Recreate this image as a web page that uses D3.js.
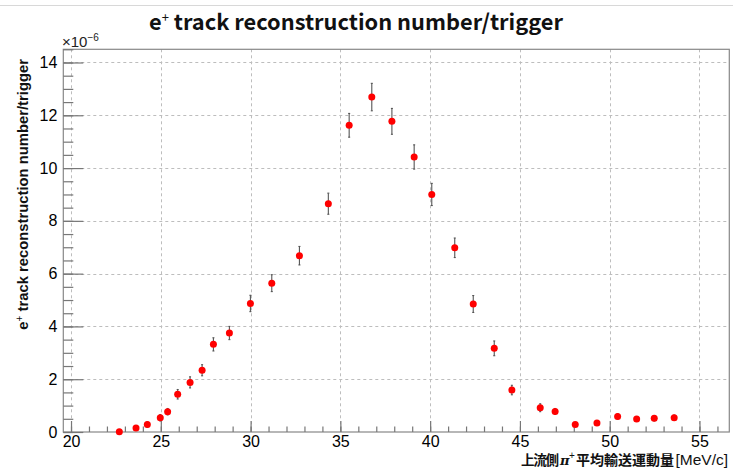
<!DOCTYPE html>
<html>
<head>
<meta charset="utf-8">
<script src="https://cdn.jsdelivr.net/npm/d3@7"></script>
<style>
  html, body { margin: 0; padding: 0; background: #fff; }
  svg { display: block; }
</style>
</head>
<body>
<script>
// Upstream pi+ mean transport momentum [MeV/c]
const momentum = [22.69, 23.62, 24.25, 24.97, 25.38, 25.94, 26.63, 27.30, 27.93, 28.82,
                  29.99, 31.18, 32.72, 34.33, 35.49, 36.75, 37.87, 39.11, 40.09, 41.37,
                  42.40, 43.57, 44.55, 46.13, 46.96, 48.08, 49.29, 50.44, 51.50, 52.48, 53.59];
// e+ reconstructed tracks per trigger (x 1e-6)
const rate = [0.01, 0.15, 0.28, 0.54, 0.77, 1.43, 1.88, 2.34, 3.32, 3.75,
              4.87, 5.64, 6.68, 8.65, 11.62, 12.69, 11.77, 10.42, 9.00, 6.98,
              4.85, 3.17, 1.59, 0.92, 0.78, 0.28, 0.34, 0.59, 0.49, 0.52, 0.54];
const rateErr = [0.04, 0.09, 0.10, 0.12, 0.12, 0.18, 0.21, 0.21, 0.25, 0.25,
                 0.31, 0.32, 0.35, 0.40, 0.45, 0.52, 0.49, 0.46, 0.42, 0.37,
                 0.32, 0.28, 0.18, 0.15, 0.11, 0.07, 0.07, 0.10, 0.09, 0.10, 0.10];
const xTicks = [20, 25, 30, 35, 40, 45, 50, 55];
const yTicks = [0, 2, 4, 6, 8, 10, 12, 14];

const W = 733, H = 470;
const frame = { left: 63.3, right: 729.3, top: 49.3, bottom: 432 };

const svg = d3.select("body").append("svg").attr("width", W).attr("height", H);

const x = d3.scaleLinear().domain([19.57, 56.66]).range([frame.left, frame.right]);
const y = d3.scaleLinear().domain([0, 14.5]).range([frame.bottom, frame.top]);

// thin rule along the top of the canvas
svg.append("line").attr("x1", 0).attr("x2", W).attr("y1", 5.5).attr("y2", 5.5)
  .attr("stroke", "#d8d8d8").attr("stroke-width", 1);

// dashed grid at major ticks
const grid = svg.append("g").attr("stroke", "#bdbdbd").attr("stroke-width", 1)
  .attr("stroke-dasharray", "3,3").attr("fill", "none");
grid.selectAll("line.gx").data(xTicks).join("line")
  .attr("x1", d => Math.round(x(d)) + 0.5).attr("x2", d => Math.round(x(d)) + 0.5)
  .attr("y1", frame.top).attr("y2", frame.bottom);
grid.selectAll("line.gy").data(yTicks.filter(d => d > 0)).join("line")
  .attr("x1", frame.left).attr("x2", frame.right)
  .attr("y1", d => Math.round(y(d)) + 0.5).attr("y2", d => Math.round(y(d)) + 0.5);

// frame
svg.append("rect").attr("x", frame.left).attr("y", frame.top)
  .attr("width", frame.right - frame.left).attr("height", frame.bottom - frame.top)
  .attr("fill", "none").attr("stroke", "#888").attr("stroke-width", 1.2);

// axes with inward ticks
const tickColor = "#777";
const xMinor = d3.range(20, 57, 1);
const yMinor = d3.range(0, 14.51, 0.5);

const xAxisMinor = d3.axisBottom(x).tickValues(xMinor).tickSizeInner(-5.5).tickSizeOuter(0).tickFormat("");
const xAxisMajor = d3.axisBottom(x).tickValues(xTicks).tickSizeInner(-11).tickSizeOuter(0).tickPadding(4);
const yAxisMinor = d3.axisLeft(y).tickValues(yMinor).tickSizeInner(-10).tickSizeOuter(0).tickFormat("");
const yAxisMajor = d3.axisLeft(y).tickValues(yTicks).tickSizeInner(-20).tickSizeOuter(0).tickPadding(6);

function styleAxis(g) {
  g.select(".domain").remove();
  g.selectAll(".tick line").attr("stroke", tickColor).attr("stroke-width", 1.2);
  g.selectAll("text").attr("font-family", "Liberation Sans, Arial, sans-serif")
    .attr("font-size", 16).attr("fill", "#000");
}
svg.append("g").attr("transform", `translate(0,${frame.bottom})`).call(xAxisMinor).call(styleAxis);
svg.append("g").attr("transform", `translate(0,${frame.bottom})`).call(xAxisMajor).call(styleAxis);
svg.append("g").attr("transform", `translate(${frame.left},0)`).call(yAxisMinor).call(styleAxis);
svg.append("g").attr("transform", `translate(${frame.left},0)`).call(yAxisMajor).call(styleAxis);

// exponent marker
const exp = svg.append("text").attr("x", 62).attr("y", 47)
  .attr("font-family", "Liberation Sans, Arial, sans-serif").attr("font-size", 15).attr("fill", "#222");
exp.append("tspan").text("\u00d710");
exp.append("tspan").attr("dy", -6).attr("font-size", 10).text("\u22126");

// title
const title = svg.append("text").attr("x", 356).attr("y", 30).attr("text-anchor", "middle")
  .attr("font-family", "Noto Sans CJK JP, Noto Sans, sans-serif").attr("font-weight", "bold")
  .attr("font-size", 21.8).attr("fill", "#111");
title.append("tspan").text("e");
title.append("tspan").attr("dy", -8).attr("font-size", 13).attr("font-weight", "normal").text("+");
title.append("tspan").attr("dy", 8).text(" track reconstruction number/trigger");

// y-axis title
const yt = svg.append("text").attr("transform", "translate(28,59) rotate(-90)")
  .attr("text-anchor", "end")
  .attr("font-family", "Liberation Sans, Arial, sans-serif").attr("font-weight", "bold")
  .attr("font-size", 14.8).attr("fill", "#111");
yt.append("tspan").text("e");
yt.append("tspan").attr("dy", -5).attr("font-size", 10).attr("font-weight", "normal").text("+");
yt.append("tspan").attr("dy", 5).text(" track reconstruction number/trigger");

// x-axis title, built from separately placed pieces
const xtY = 465;
const cjk = "Noto Sans CJK JP, sans-serif";
svg.append("text").attr("x", 521).attr("y", xtY).attr("font-family", cjk).attr("font-weight", "bold")
  .attr("font-size", 13.5).attr("letter-spacing", -1.2).attr("fill", "#111").text("上流側");
svg.append("text").attr("x", 560).attr("y", xtY).attr("font-family", "DejaVu Serif, serif")
  .attr("font-style", "italic").attr("font-weight", "bold").attr("font-size", 13).attr("fill", "#111").text("\u03c0");
svg.append("text").attr("x", 569).attr("y", xtY - 6).attr("font-family", "Liberation Sans, sans-serif")
  .attr("font-size", 10).attr("fill", "#111").text("+");
svg.append("text").attr("x", 576).attr("y", xtY).attr("font-family", cjk).attr("font-weight", "bold")
  .attr("font-size", 14).attr("fill", "#111").text("平均輸送運動量");
svg.append("text").attr("x", 728).attr("y", xtY).attr("text-anchor", "end")
  .attr("font-family", "Liberation Sans, Arial, sans-serif").attr("font-size", 15.5).attr("fill", "#111").text("[MeV/c]");

// data with error bars
const pts = momentum.map((m, i) => ({ m, r: rate[i], e: rateErr[i] }));
const bars = svg.append("g").attr("stroke", "#555").attr("stroke-width", 1.1);
bars.selectAll("line.v").data(pts).join("line")
  .attr("x1", d => x(d.m)).attr("x2", d => x(d.m))
  .attr("y1", d => y(d.r - d.e)).attr("y2", d => y(d.r + d.e));
bars.selectAll("line.c1").data(pts).join("line")
  .attr("x1", d => x(d.m) - 1).attr("x2", d => x(d.m) + 1)
  .attr("y1", d => y(d.r + d.e)).attr("y2", d => y(d.r + d.e));
bars.selectAll("line.c2").data(pts).join("line")
  .attr("x1", d => x(d.m) - 1).attr("x2", d => x(d.m) + 1)
  .attr("y1", d => y(d.r - d.e)).attr("y2", d => y(d.r - d.e));

svg.append("g").selectAll("circle").data(pts).join("circle")
  .attr("cx", d => x(d.m)).attr("cy", d => y(d.r)).attr("r", 3.5)
  .attr("fill", "#f00");
</script>
</body>
</html>
